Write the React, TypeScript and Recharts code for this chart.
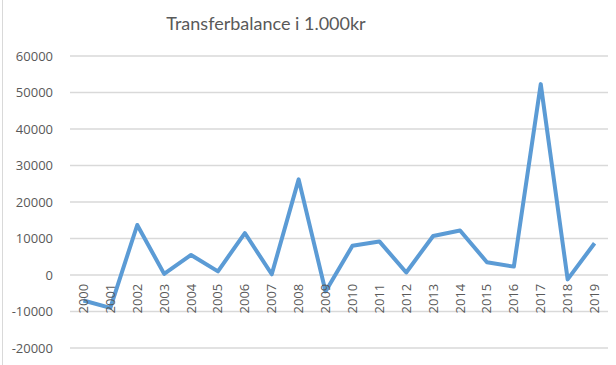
import React from "react"
import { LineChart, Line, XAxis, YAxis, CartesianGrid } from "recharts"

const years = [
  "2000", "2001", "2002", "2003", "2004", "2005", "2006", "2007", "2008", "2009",
  "2010", "2011", "2012", "2013", "2014", "2015", "2016", "2017", "2018", "2019",
]
const balance = [
  -7000, -9000, 13700, 300, 5500, 1000, 11500, 200, 26200, -4500,
  8000, 9200, 700, 10700, 12200, 3500, 2300, 52300, -1200, 8700,
]
const yTicks = [-20000, -10000, 0, 10000, 20000, 30000, 40000, 50000, 60000]

const W = 616
const H = 365
const M = { top: 56, right: 8, bottom: 16, left: 0 }
const yMin = -20000
const yMax = 60000
const font = "'Open Sans', sans-serif"

const data = years.map((year, i) => ({ year, value: balance[i] }))

// x labels sit just under the zero line, not at the bottom of the plot
const zeroShift = ((H - M.top - M.bottom) * (0 - yMin)) / (yMax - yMin)
// half a category band on each side, like a category axis in a spreadsheet
const halfBand = (W - 70 - M.right) / years.length / 2

function YearTick(props: any) {
  const { x, y, payload } = props
  const ty = y - zeroShift + 9
  return (
    <text
      x={x}
      y={ty}
      transform={`rotate(-90, ${x}, ${ty})`}
      textAnchor="end"
      dy="0.35em"
      fill="#595959"
      fontSize={13}
      fontFamily={font}
    >
      {payload.value}
    </text>
  )
}

export default function App() {
  return (
    <div style={{ position: "absolute", left: 0, top: 0, width: W, height: H, background: "#fff" }}>
      <div style={{ position: "absolute", left: 2, top: 0, width: 1, height: H, background: "#d9d9d9" }} />
      <LineChart width={W} height={H} data={data} margin={M}>
        <text x={266} y={30} textAnchor="middle" fill="#595959" fontSize={18} fontFamily="Lato, sans-serif">
          Transferbalance i 1.000kr
        </text>
        <CartesianGrid vertical={false} stroke="#d9d9d9" strokeWidth={1.3} />
        <XAxis
          dataKey="year"
          axisLine={false}
          tickLine={false}
          tickSize={0}
          tickMargin={0}
          interval={0}
          padding={{ left: halfBand, right: halfBand }}
          tick={<YearTick />}
          height={1}
        />
        <YAxis
          domain={[yMin, yMax]}
          ticks={yTicks}
          axisLine={false}
          tickLine={false}
          tickSize={0}
          tickMargin={17}
          width={70}
          interval={0}
          tick={{ fill: "#595959", fontSize: 13, fontFamily: font }}
        />
        <Line
          type="linear"
          dataKey="value"
          stroke="#5b9bd5"
          strokeWidth={4}
          dot={false}
          strokeLinejoin="round"
          isAnimationActive={false}
        />
      </LineChart>
    </div>
  )
}
